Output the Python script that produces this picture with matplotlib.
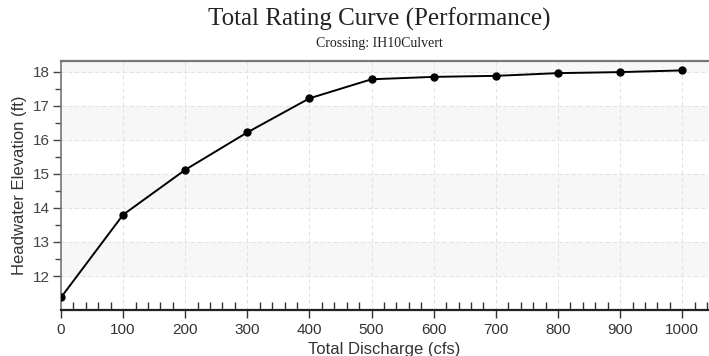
import matplotlib
matplotlib.use("Agg")
import matplotlib.pyplot as plt
from matplotlib.ticker import MultipleLocator, FixedLocator

# rating curve values
discharge = [0, 100, 200, 300, 400, 500, 600, 700, 800, 900, 1000]
headwater = [11.37, 13.80, 15.12, 16.22, 17.22, 17.78, 17.85, 17.88, 17.96, 17.99, 18.04]
y_ticks = [12, 13, 14, 15, 16, 17, 18]
shade_bands = [(12, 13), (14, 15), (16, 17), (18, 19)]

fig = plt.figure(figsize=(7.09, 3.56), dpi=100)
ax = fig.add_axes([0.086, 0.129, 0.913, 0.70])

for lo, hi in shade_bands:
    ax.axhspan(lo, hi, color="#f7f7f7", zorder=0)

ax.plot(discharge, headwater, color="black", lw=1.4, marker="o", ms=5, zorder=3)

ax.set_xlim(0, 1042)
ax.set_ylim(11.0, 18.32)
ax.xaxis.set_major_locator(MultipleLocator(100))
ax.xaxis.set_minor_locator(MultipleLocator(20))
ax.yaxis.set_major_locator(FixedLocator(y_ticks))
ax.yaxis.set_minor_locator(FixedLocator([t - 0.5 for t in y_ticks[1:]]))

ax.grid(True, which="major", color="#e2e2e2", ls=(0, (4, 3)), lw=0.7)
ax.set_axisbelow(True)

ax.tick_params(axis="x", which="major", direction="out", length=6, width=1, colors="#333333", labelsize=11, pad=3)
ax.tick_params(axis="x", which="minor", direction="in", length=6, width=1, color="#333333")
ax.tick_params(axis="y", which="major", direction="out", length=6, width=1, colors="#444444", labelsize=11, pad=2)
ax.tick_params(axis="y", which="minor", direction="out", length=4, width=1, color="#444444")
for lab in ax.get_xticklabels() + ax.get_yticklabels():
    lab.set_fontfamily("Liberation Sans")

ax.spines["right"].set_visible(False)
ax.spines["top"].set_color("#777777")
ax.spines["top"].set_linewidth(1.6)
ax.spines["left"].set_color("#777777")
ax.spines["left"].set_linewidth(1.2)
ax.spines["bottom"].set_color("#222222")
ax.spines["bottom"].set_linewidth(1.6)

ax.set_xlabel("Total Discharge (cfs)", family="Liberation Sans", fontsize=12, color="#333333", labelpad=4)
ax.set_ylabel("Headwater Elevation (ft)", family="Liberation Sans", fontsize=12, color="#333333", labelpad=4)

fig.text(0.535, 0.945, "Total Rating Curve (Performance)", family="Liberation Serif",
         fontsize=18, ha="center", va="center", color="#222222")
fig.text(0.535, 0.878, "Crossing: IH10Culvert", family="Liberation Serif",
         fontsize=10, ha="center", va="center", color="#222222")

fig.savefig("out.png", dpi=100)
